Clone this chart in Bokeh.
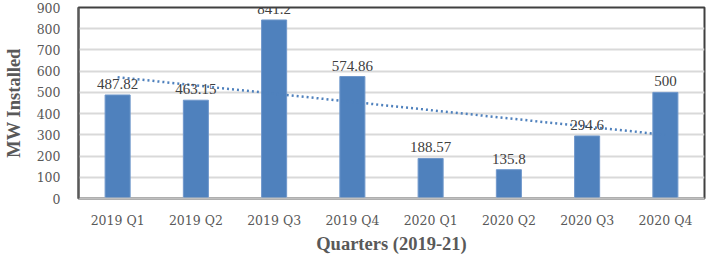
import numpy as np
from bokeh.plotting import figure
from bokeh.models import ColumnDataSource, FactorRange, Range1d, FixedTicker, LabelSet
from bokeh.embed import file_html
from bokeh.resources import INLINE

quarters = ["2019 Q1", "2019 Q2", "2019 Q3", "2019 Q4", "2020 Q1", "2020 Q2", "2020 Q3", "2020 Q4"]
mw_installed = [487.82, 463.15, 841.2, 574.86, 188.57, 135.8, 294.6, 500]
label_texts = ["487.82", "463.15", "841.2", "574.86", "188.57", "135.8", "294.6", "500"]
y_ticks = [0, 100, 200, 300, 400, 500, 600, 700, 800, 900]

# linear trendline fitted to the data
xs = np.arange(1, len(mw_installed) + 1)
slope, intercept = np.polyfit(xs, mw_installed, 1)
trend_vals = [float(slope * xs[0] + intercept), float(slope * xs[-1] + intercept)]

source = ColumnDataSource(dict(q=quarters, v=mw_installed, t=label_texts))

p = figure(
    width=706, height=256,
    x_range=FactorRange(*quarters),
    y_range=Range1d(0, 900),
    output_backend="svg", toolbar_location=None,
    min_border_left=70, min_border_right=2, min_border_top=7, min_border_bottom=58,
)
p.background_fill_color = "white"
p.border_fill_color = "white"
p.outline_line_color = "#404040"
p.outline_line_width = 2

p.vbar(x="q", top="v", width=0.32, source=source,
       fill_color="#4F81BD", line_color="#6F97CB", line_width=1)

p.line(x=[quarters[0], quarters[-1]], y=trend_vals,
       line_color="#4F81BD", line_width=2.5, line_dash="2 3")

labels = LabelSet(x="q", y="v", text="t", source=source,
                  text_align="center", text_baseline="bottom", y_offset=6,
                  text_font="DejaVu Serif", text_font_size="15px", text_color="#404040")
p.add_layout(labels)

# grid
p.xgrid.grid_line_color = None
p.ygrid.grid_line_color = "#D9D9D9"
p.ygrid.grid_line_width = 2
p.yaxis.ticker = FixedTicker(ticks=y_ticks)

# axes
for ax in (p.xaxis, p.yaxis):
    ax.major_tick_line_color = None
    ax.minor_tick_line_color = None
    ax.major_label_text_font = "DejaVu Serif"
    ax.major_label_text_font_size = "12.5px"
    ax.major_label_text_color = "#595959"
    ax.axis_label_text_font = "Liberation Serif"
    ax.axis_label_text_font_style = "bold"
    ax.axis_label_text_font_size = "18.5px"
    ax.axis_label_text_color = "#595959"

p.yaxis.axis_line_color = "#595959"
p.yaxis.axis_line_width = 2
p.yaxis.major_label_standoff = 12
p.yaxis.axis_label = "MW Installed"
p.yaxis.axis_label_standoff = 10

p.xaxis.axis_line_color = "#BFBFBF"
p.xaxis.axis_line_width = 2
p.xaxis.major_label_standoff = 8
p.xaxis.axis_label = "Quarters (2019-21)"
p.xaxis.axis_label_standoff = 3

open("out.html", "w").write(file_html(p, INLINE))
